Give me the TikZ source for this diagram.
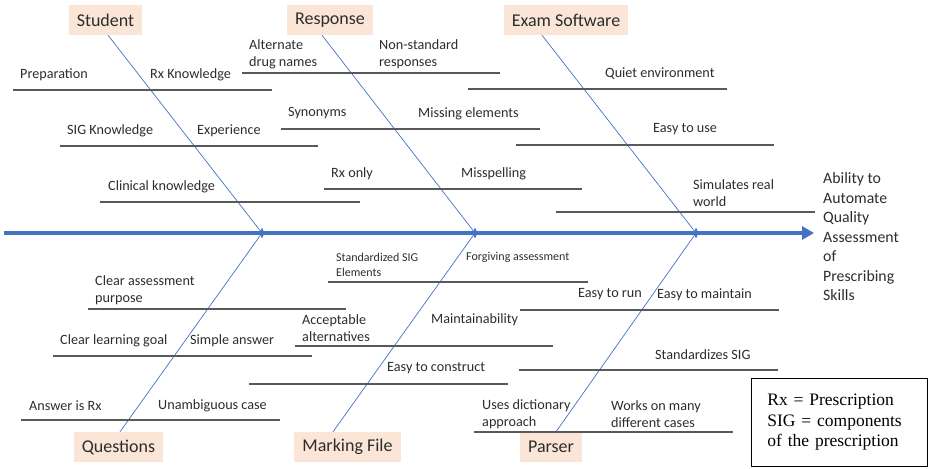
\documentclass[tikz,border=0pt]{standalone}
\usepackage{fontspec}
\setmainfont{Carlito}
\newfontfamily\legendfont{Liberation Serif}
\usepackage{tikz}
\usetikzlibrary{arrows.meta,positioning,shapes.geometric}
\definecolor{bonecol}{RGB}{68,114,196}
\definecolor{boxfill}{RGB}{251,229,214}
\definecolor{twigcol}{RGB}{89,89,89}
\definecolor{txtcol}{RGB}{45,45,45}
\tikzset{
  cause/.style={fill=boxfill, inner xsep=8pt, minimum height=30pt, text=txtcol, font=\fontsize{18}{20}\selectfont},
  lbl/.style={anchor=west, inner sep=0pt, align=left, yshift=-1.5pt, text=txtcol, font=\fontsize{14.2}{17}\selectfont},
  smalllbl/.style={lbl, font=\fontsize{12}{15}\selectfont},
  twig/.style={twigcol, line width=1.3pt},
  bone/.style={bonecol, line width=0.7pt},
  spine/.style={bonecol, line width=3.5pt, -{Triangle[length=12pt,width=13pt]}},
  joint/.style={diamond, fill=bonecol, inner sep=0pt, minimum width=5pt, minimum height=11pt}
}

\begin{document}
\begin{tikzpicture}[x=1pt, y=-1pt]
\useasboundingbox (0,0) rectangle (933,468);

% ===================== spine =====================
\path
(4,233)   coordinate (tail)
(814,233) coordinate (head)
(262,233) coordinate (j1)
(475,233) coordinate (j2)
(696,233) coordinate (j3);

\draw[spine] (tail) -- (head);
\node[lbl, anchor=north west, font=\fontsize{15.8}{19.5}\selectfont] (effect) at (823,171)
  {Ability to\\Automate\\Quality\\Assessment\\of\\Prescribing\\Skills};

% ===================== causes =====================
\node[cause] (student)  at (105.5,20) {Student};
\node[cause] (response) at (330,20)   {Response};
\node[cause] (examsw)   at (566,20)   {Exam Software};
\node[cause] (questions) at (118.5,447) {Questions};
\node[cause] (markfile) at (347.5,447) {Marking File};
\node[cause] (parser)   at (551,447)   {Parser};

% bones
\draw[bone] ([xshift=2.5]student.south) -- (j1);
\draw[bone] ([xshift=-8]response.south) -- (j2);
\draw[bone] ([xshift=-24]examsw.south) -- (j3);
\draw[bone] ([xshift=1.5]questions.north) -- (j1);
\draw[bone] ([xshift=-14.5]markfile.north) -- (j2);
\draw[bone] ([xshift=5]parser.north) -- (j3);

\foreach \j in {j1,j2,j3}
  \node[joint] (m\j) at (\j) {};

% ===================== upper twigs =====================
\draw[twig] (242,73) -- (500,73);
\node[lbl] (altdrug) at (249,52.5) {Alternate\\drug names};
\node[lbl] (nonstd)  at (379,52.5) {Non-standard\\responses};

\draw[twig] (13,90) -- (272,90);
\node[lbl] (prep)   at (20,73)  {Preparation};
\node[lbl] (rxknow) at (150,73) {Rx Knowledge};

\draw[twig] (468,89) -- (727,89);
\node[lbl] (quiet) at (605,72) {Quiet environment};

\draw[twig] (281,129) -- (540,129);
\node[lbl] (synonyms) at (288,112) {Synonyms};
\node[lbl] (missing)  at (418,112) {Missing elements};

\draw[twig] (60,146) -- (318,146);
\node[lbl] (sigknow)    at (67,129)  {SIG Knowledge};
\node[lbl] (experience) at (197,129) {Experience};

\draw[twig] (516,145) -- (774,145);
\node[lbl] (easyuse) at (653,128) {Easy to use};

\draw[twig] (324,189) -- (582,189);
\node[lbl] (rxonly)   at (331,172) {Rx only};
\node[lbl] (misspell) at (461,172) {Misspelling};

\draw[twig] (100,202) -- (360,202);
\node[lbl] (clinical) at (108,185) {Clinical knowledge};

\draw[twig] (556,212) -- (815,212);
\node[lbl] (simulates) at (693,191.5) {Simulates real\\world};

% ===================== lower twigs =====================
\draw[twig] (328,282) -- (588,282);
\node[smalllbl] (stdsig)    at (336,263.5) {Standardized SIG\\Elements};
\node[smalllbl] (forgiving) at (466,256)   {Forgiving assessment};

\draw[twig] (88,309) -- (346,309);
\node[lbl] (clearassess) at (95,288.5) {Clear assessment\\purpose};

\draw[twig] (520,310) -- (779,310);
\node[lbl] (easyrun)   at (578,293) {Easy to run};
\node[lbl] (easymaint) at (657,293) {Easy to maintain};

\draw[twig] (295,346) -- (553,346);
\node[lbl] (acceptable) at (302,326.5) {Acceptable\\alternatives};
\node[lbl] (maintain)   at (431,318)   {Maintainability};

\draw[twig] (53,356) -- (312,356);
\node[lbl] (clearlearn) at (60,339)  {Clear learning goal};
\node[lbl] (simple)     at (190,339) {Simple answer};

\draw[twig] (249,384) -- (508,384);
\node[lbl] (easyconstr) at (387,367) {Easy to construct};

\draw[twig] (519,370) -- (778,370);
\node[lbl] (stdizes) at (655,353) {Standardizes SIG};

\draw[twig] (21,420) -- (280,420);
\node[lbl] (answerrx) at (29,404)  {Answer is Rx};
\node[lbl] (unambig)  at (158,404) {Unambiguous case};

\draw[twig] (474,432) -- (733,432);
\node[lbl] (usesdict)  at (482,412.5) {Uses dictionary\\approach};
\node[lbl] (worksmany) at (611,412.5) {Works on many\\different cases};

% ===================== legend =====================
\node[draw, line width=0.8pt, anchor=north west, align=left, inner xsep=16pt,
  text width=144pt, minimum height=88pt, font=\legendfont\fontsize{17.5}{20.5}\selectfont] (legend)
  at (751,378) {Rx = Prescription\\SIG = components\\of the prescription};
\end{tikzpicture}
\end{document}
